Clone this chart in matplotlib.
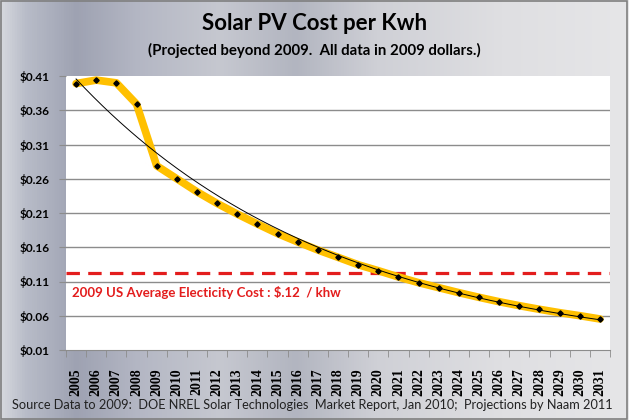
import numpy as np
import matplotlib
matplotlib.use("Agg")
import matplotlib.pyplot as plt
from matplotlib.colors import LinearSegmentedColormap
from matplotlib.patches import Rectangle
from matplotlib.ticker import FixedLocator

years = [str(y) for y in range(2005, 2032)]
cost = [0.399, 0.404, 0.400, 0.369, 0.279, 0.260, 0.241, 0.224, 0.2085, 0.194,
        0.180, 0.1677, 0.156, 0.1453, 0.1345, 0.1258, 0.1166, 0.1083, 0.101, 0.0937,
        0.0869, 0.0805, 0.0747, 0.0694, 0.0645, 0.0601, 0.0553]
avg_cost = 0.123
yticks = [0.01, 0.06, 0.11, 0.16, 0.21, 0.26, 0.31, 0.36, 0.41]
ytick_labels = ["$0.01", "$0.06", "$0.11", "$0.16", "$0.21", "$0.26", "$0.31", "$0.36", "$0.41"]

title = "Solar PV Cost per Kwh"
subtitle = "(Projected beyond 2009.  All data in 2009 dollars.)"
avg_label = "2009 US Average Electicity Cost : $.12  / khw"
source = "Source Data to 2009:  DOE NREL Solar Technologies  Market Report, Jan 2010;  Projections by Naam 2011"

W, H = 629, 420
fig = plt.figure(figsize=(W / 100, H / 100), dpi=100)

# metallic background
bg = fig.add_axes([0, 0, 1, 1], zorder=-10)
stops = [(0.0, "#d6d8de"), (0.04, "#b8bcc8"), (0.12, "#9ea2b2"), (0.22, "#b4b7c4"),
         (0.35, "#c6c8d0"), (0.47, "#b2b5c0"), (0.6, "#cfd0d6"), (0.8, "#dfdfe2"), (1.0, "#e6e6e8")]
cmap = LinearSegmentedColormap.from_list("metal", stops)
grad = np.linspace(0, 1, 512)[None, :]
bg.imshow(grad, aspect="auto", cmap=cmap, extent=[0, 1, 0, 1])
bg.set_xlim(0, 1); bg.set_ylim(0, 1)
bg.axis("off")
bg.add_patch(Rectangle((0.001, 0.002), 0.996, 0.995, fill=False, edgecolor="#7f7f7f", lw=1.2,
                       transform=bg.transAxes))

left, right, top, bottom = 66, 610, 76, 350
ax = fig.add_axes([left / W, 1 - bottom / H, (right - left) / W, (bottom - top) / H])
ax.set_facecolor("white")

x = np.arange(len(years))
ax.set_xlim(-0.5, len(years) - 0.5)
ax.set_ylim(yticks[0], yticks[-1])

for yt in yticks[1:-1]:
    ax.axhline(yt, color="#8c8c8c", lw=1.0, zorder=1)

ax.axhline(avg_cost, color="#e31d1d", lw=2.3, dashes=(4.2, 2.6), zorder=2)

ax.plot(x, cost, color="#ffc000", lw=5.5, solid_joinstyle="round", solid_capstyle="round", zorder=3)

coef = np.polyfit(x, np.log(cost), 1)
xs = np.linspace(0, len(years) - 1, 300)
ax.plot(xs, np.exp(np.polyval(coef, xs)), color="black", lw=0.7, zorder=4)

ax.plot(x, cost, linestyle="none", marker="D", ms=2.7, color="black", zorder=5)

ax.text(-0.2, 0.0935, avg_label, color="#e31d1d", fontsize=9.5, fontweight="bold",
        family="Lato", va="center", ha="left", zorder=6)

for s in ["top", "right", "left"]:
    ax.spines[s].set_visible(False)
ax.spines["bottom"].set_color("#8c8c8c")

ax.set_yticks(yticks)
ax.set_yticklabels(ytick_labels, fontsize=8.5, fontweight="bold", family="Lato")
ax.tick_params(axis="y", length=5, color="#8c8c8c", pad=7)

ax.set_xticks(x)
ax.set_xticklabels(years, rotation=90, fontsize=10, fontweight="bold", family="Liberation Serif")
ax.tick_params(axis="x", which="major", length=0, pad=13)
ax.xaxis.set_minor_locator(FixedLocator(np.arange(-0.5, len(years), 1.0)))
ax.tick_params(axis="x", which="minor", length=5, color="#8c8c8c")

fig.text(0.5, 1 - 24 / H, title, ha="center", va="center", fontsize=16, fontweight="bold", family="Lato")
fig.text(0.5, 1 - 50 / H, subtitle, ha="center", va="center", fontsize=10.8, fontweight="bold", family="Lato")
fig.text(12 / W, 1 - 405 / H, source, ha="left", va="center", fontsize=9.2, family="Lato", color="#222222")

fig.savefig("out.png", dpi=100)
